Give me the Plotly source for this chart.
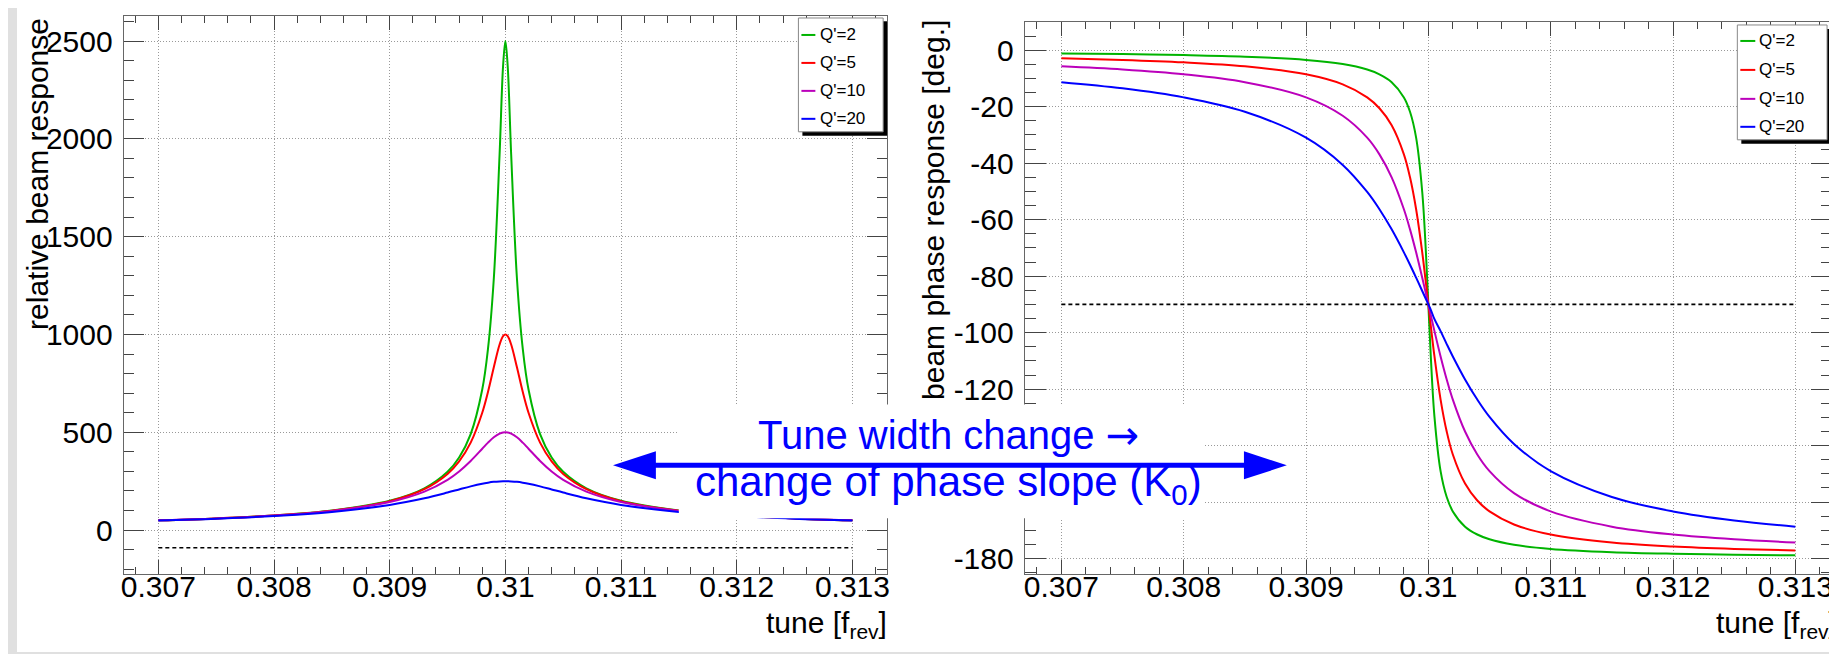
import plotly.graph_objects as go

W, H = 1837, 654

# ---------------- data ----------------
tune = [0.307, 0.3075, 0.308, 0.3085, 0.309, 0.3093, 0.3095, 0.3096, 0.3097, 0.3098,
        0.30985, 0.3099, 0.30995, 0.30998, 0.31, 0.31002, 0.31005, 0.3101, 0.31015,
        0.3102, 0.3103, 0.3104, 0.3105, 0.3107, 0.311, 0.3115, 0.312, 0.3125, 0.313]

series_names = ["Q'=2", "Q'=5", "Q'=10", "Q'=20"]

resp_q2 = [50.0, 60.0, 75.0, 99.9, 149.7, 213.5, 297.9, 370.8, 490.3, 718.4, 928.5, 1286, 1921, 2372,
           2500,
           2372, 1921, 1286, 928.5, 718.4, 490.3, 370.8, 297.9, 213.5, 149.7, 99.9, 75.0, 60.0, 50.0]
resp_q5 = [49.9, 59.9, 74.8, 99.5, 148.3, 209.5, 287.3, 351.1, 447.2, 600.0, 707.1, 832.1, 948.7, 991.2,
           1000,
           991.2, 948.7, 832.1, 707.1, 600.0, 447.2, 351.1, 287.3, 209.5, 148.3, 99.5, 74.8, 59.9, 49.9]
resp_q10 = [49.8, 59.6, 74.2, 98.1, 143.7, 197.0, 257.2, 300.0, 353.6, 416.0, 447.2, 474.3, 493.2, 498.9,
            500,
            498.9, 493.2, 474.3, 447.2, 416.0, 353.6, 300.0, 257.2, 197.0, 143.7, 98.1, 74.2, 59.6, 49.8]
resp_q20 = [49.0, 58.3, 71.8, 92.8, 128.6, 162.7, 192.1, 208.0, 223.6, 237.2, 242.5, 246.6, 249.1, 249.9,
            250,
            249.9, 249.1, 246.6, 242.5, 237.2, 223.6, 208.0, 192.1, 162.7, 128.6, 92.8, 71.8, 58.3, 49.0]

phase_q2 = [-1.15, -1.37, -1.72, -2.29, -3.43, -4.90, -6.84, -8.53, -11.31, -16.70, -21.80, -30.96, -50.19, -71.57,
            -90,
            -108.43, -129.81, -149.04, -158.20, -163.30, -168.69, -171.47, -173.16, -175.10, -176.57, -177.71,
            -178.28, -178.63, -178.85]
phase_q5 = [-2.86, -3.43, -4.29, -5.71, -8.53, -12.09, -16.70, -20.56, -26.57, -36.87, -45.00, -56.31, -71.57, -82.41,
            -90,
            -97.59, -108.43, -123.69, -135.00, -143.13, -153.43, -159.44, -163.30, -167.91, -171.47, -174.29,
            -175.71, -176.57, -177.14]
phase_q10 = [-5.71, -6.84, -8.53, -11.31, -16.70, -23.20, -30.96, -36.87, -45.00, -56.31, -63.43, -71.57, -80.54, -86.19,
             -90,
             -93.81, -99.46, -108.43, -116.57, -123.69, -135.00, -143.13, -149.04, -156.80, -163.30, -168.69,
             -171.47, -173.16, -174.29]
phase_q20 = [-11.31, -13.50, -16.70, -21.80, -30.96, -40.60, -50.19, -56.31, -63.43, -71.57, -75.96, -80.54, -85.24, -88.09,
             -90,
             -91.91, -95.24, -99.46, -104.04, -108.43, -116.57, -123.69, -129.81, -139.40, -149.04, -158.20,
             -163.30, -166.50, -168.69]

ref_tune = [0.307, 0.313]
ref_level = [-90, -90]

x_tick_vals = [0.307, 0.308, 0.309, 0.310, 0.311, 0.312, 0.313]
x_tick_text = ["0.307", "0.308", "0.309", "0.31", "0.311", "0.312", "0.313"]
resp_tick_vals = [0, 500, 1000, 1500, 2000, 2500]
resp_tick_text = ["0", "500", "1000", "1500", "2000", "2500"]
phase_tick_vals = [0, -20, -40, -60, -80, -100, -120, -140, -160, -180]
# -140 and -160 are hidden behind the annotation box in the reference
phase_tick_text = ["0", "-20", "-40", "-60", "-80", "-100", "-120", "", "", "-180"]

# ---------------- styling ----------------
colors = ["#00b400", "#ff0000", "#bb00bb", "#0000ff"]
FONT = "Liberation Sans, Arial, sans-serif"


def px(x):
    return x / W


def py(y):
    return 1 - y / H


fig = go.Figure()

resp_series = [resp_q2, resp_q5, resp_q10, resp_q20]
phase_series = [phase_q2, phase_q5, phase_q10, phase_q20]

for xa_, ya_ in (("x", "y"), ("x2", "y2")):
    fig.add_trace(go.Scatter(x=ref_tune, y=ref_level, mode="lines", xaxis=xa_, yaxis=ya_,
                             line=dict(color="black", width=1.6, dash="4px,3px"), showlegend=False,
                             hoverinfo="skip"))
for name, c, r, p in zip(series_names, colors, resp_series, phase_series):
    fig.add_trace(go.Scatter(x=tune, y=r, mode="lines", name=name, xaxis="x", yaxis="y",
                             line=dict(color=c, width=2, shape="spline", smoothing=1), showlegend=False))
    fig.add_trace(go.Scatter(x=tune, y=p, mode="lines", name=name, xaxis="x2", yaxis="y2",
                             line=dict(color=c, width=2, shape="spline", smoothing=1), showlegend=False))

tickfont = dict(family=FONT, size=30, color="black")
common = dict(ticks="inside", tickwidth=1, tickcolor="#444", mirror="ticks", showline=True,
              linecolor="#666", linewidth=1, showgrid=True, gridcolor="#999999",
              griddash="1px,2px", gridwidth=1, zeroline=False, tickfont=tickfont,
              tickmode="array", fixedrange=True)

# frame pixel boxes
L = dict(x0=113, x1=879, y0=8, y1=567)
R = dict(x0=1017, x1=1827, y0=14, y1=567)


def xaxis(box, anchor):
    d = dict(common)
    d.update(domain=[px(box["x0"]), px(box["x1"])], anchor=anchor, range=[0.3067, 0.3133],
             tickvals=x_tick_vals, ticktext=x_tick_text, ticklen=14, ticklabelstandoff=-14,
             minor=dict(tickmode="linear", tick0=0.307, dtick=0.0002, ticks="inside", ticklen=7,
                        tickcolor="#444", tickwidth=1, showgrid=False))
    return d


def yaxis(box, anchor, rng, vals, text, mdt, tl, mtl):
    d = dict(common)
    d.update(domain=[py(box["y1"]), py(box["y0"])], anchor=anchor, range=rng,
             tickvals=vals, ticktext=text, ticklen=tl, ticklabelstandoff=4,
             minor=dict(tickmode="linear", tick0=0, dtick=mdt, ticks="inside", ticklen=mtl,
                        tickcolor="#444", tickwidth=1, showgrid=False))
    return d


fig.update_layout(
    width=W, height=H, autosize=False,
    margin=dict(l=0, r=0, t=0, b=0),
    paper_bgcolor="#e0e0e0", plot_bgcolor="white",
    showlegend=False,
    xaxis=xaxis(L, "y"),
    yaxis=yaxis(L, "x", [-225, 2628], resp_tick_vals, resp_tick_text, 100, 20, 10),
    xaxis2=xaxis(R, "y2"),
    yaxis2=yaxis(R, "x2", [-185.5, 10], phase_tick_vals, phase_tick_text, 5, 21, 11),
)

shapes = []
# page background (white sheet with grey border at left/bottom)
shapes.append(dict(type="rect", xref="paper", yref="paper", layer="below",
                   x0=px(6), x1=1, y0=py(645), y1=1, fillcolor="white", line=dict(width=0)))


def legend(x0, y0, x1, y1, rows, lx0, lx1, tx):
    out_s, out_a = [], []
    out_s.append(dict(type="rect", xref="paper", yref="paper", layer="above",
                      x0=px(x0 + 4), x1=px(x1 + 4), y0=py(y1 + 4), y1=py(y0 + 4),
                      fillcolor="black", line=dict(width=0)))
    out_s.append(dict(type="rect", xref="paper", yref="paper", layer="above",
                      x0=px(x0), x1=px(x1), y0=py(y1), y1=py(y0),
                      fillcolor="white", line=dict(color="#888888", width=1)))
    for ry, c, name in zip(rows, colors, series_names):
        out_s.append(dict(type="line", xref="paper", yref="paper", layer="above",
                          x0=px(lx0), x1=px(lx1), y0=py(ry), y1=py(ry),
                          line=dict(color=c, width=2)))
        out_a.append(dict(xref="paper", yref="paper", x=px(tx), y=py(ry), xanchor="left",
                          yanchor="middle", text=name, showarrow=False,
                          font=dict(family=FONT, size=17, color="black")))
    return out_s, out_a


annotations = []
s, a = legend(790, 10, 875, 124, [27, 55, 83, 111], 793, 807, 810)
shapes += s
annotations += a
s, a = legend(1732, 17, 1822, 132, [33, 62, 91, 119], 1735, 1750, 1752)
shapes += s
annotations += a

# white cover box behind the blue annotation text
shapes.append(dict(type="rect", xref="paper", yref="paper", layer="above",
                   x0=px(670), x1=px(1197), y0=py(511), y1=py(397),
                   fillcolor="white", line=dict(width=0)))
# double-headed arrow
ay = 458
shapes.append(dict(type="line", xref="paper", yref="paper", layer="above",
                   x0=px(640), x1=px(1245), y0=py(ay), y1=py(ay),
                   line=dict(color="#0000ff", width=5)))
shapes.append(dict(type="path", xref="paper", yref="paper", layer="above",
                   path=f"M {px(604)},{py(ay)} L {px(647)},{py(ay - 14)} L {px(647)},{py(ay + 14)} Z",
                   fillcolor="#0000ff", line=dict(width=0)))
shapes.append(dict(type="path", xref="paper", yref="paper", layer="above",
                   path=f"M {px(1280)},{py(ay)} L {px(1237)},{py(ay - 14)} L {px(1237)},{py(ay + 14)} Z",
                   fillcolor="#0000ff", line=dict(width=0)))

# axis titles
title_font = dict(family=FONT, size=30, color="black")
annotations.append(dict(xref="paper", yref="paper", x=px(27), y=py(8), xanchor="center", yanchor="top",
                        text="relative beam response", textangle=-90, showarrow=False, font=title_font))
annotations.append(dict(xref="paper", yref="paper", x=px(926), y=py(10), xanchor="center", yanchor="top",
                        text="beam phase response [deg.]", textangle=-90, showarrow=False, font=title_font))
annotations.append(dict(xref="paper", yref="paper", x=px(881), y=py(597), xanchor="right", yanchor="top",
                        text="tune [f<sub>rev</sub>]", showarrow=False, font=title_font))
annotations.append(dict(xref="paper", yref="paper", x=px(1834), y=py(597), xanchor="right", yanchor="top",
                        text="tune [f<sub>rev</sub>]", showarrow=False, font=title_font))

# blue annotation text
annotations.append(dict(xref="paper", yref="paper", x=px(941), y=py(428), xanchor="center", yanchor="middle",
                        text="Tune width change <span style=\"font-family:'DejaVu Sans'\">\u2192</span>",
                        showarrow=False, font=dict(family=FONT, size=40, color="#0000ff")))
annotations.append(dict(xref="paper", yref="paper", x=px(941), y=py(477), xanchor="center", yanchor="middle",
                        text="change of phase slope (K<sub>0</sub>)", showarrow=False,
                        font=dict(family=FONT, size=42, color="#0000ff")))

fig.update_layout(shapes=shapes, annotations=annotations)

fig.write_html("out.html")
